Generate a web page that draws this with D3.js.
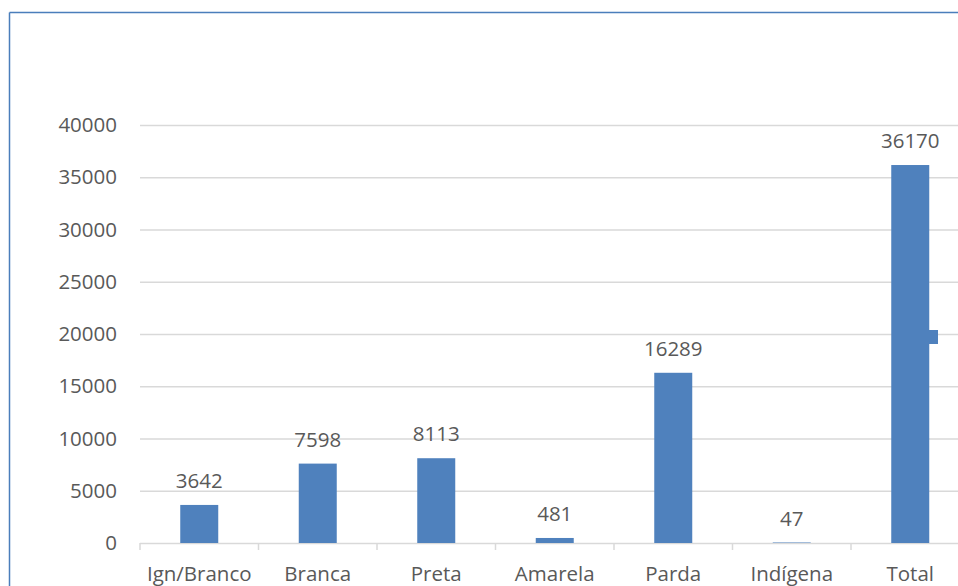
<!DOCTYPE html>
<html>
<head>
<meta charset="utf-8">
<script src="https://cdn.jsdelivr.net/npm/d3@7"></script>
<style>
  body { margin: 0; background: #fff; }
  text { font-family: "Open Sans", "Liberation Sans", sans-serif; fill: #595959; }
</style>
</head>
<body>
<div id="chart"></div>
<script>
var categories = ['Ign/Branco', 'Branca', 'Preta', 'Amarela', 'Parda', 'Indígena', 'Total']
var values = [3642, 7598, 8113, 481, 16289, 47, 36170]
var yTicks = [0, 5000, 10000, 15000, 20000, 25000, 30000, 35000, 40000]

var width = 958
var height = 586

var svg = d3.select('#chart')
            .append('svg')
            .attr('width', width)
            .attr('height', height)

// chart area frame (only left and top edges visible)
svg.append('line')
    .attr('x1', 9.5).attr('x2', 9.5)
    .attr('y1', 12.5).attr('y2', height)
    .attr('stroke', '#4a7ebb').attr('stroke-width', 1.5)
svg.append('line')
    .attr('x1', 9.5).attr('x2', width)
    .attr('y1', 12.5).attr('y2', 12.5)
    .attr('stroke', '#4a7ebb').attr('stroke-width', 1.5)

var x = d3.scaleBand()
          .domain(categories)
          .range([140, 140 + 7 * 118.5])
          .padding(0)

var y = d3.scaleLinear()
          .domain([0, 40000])
          .range([543, 125])

// gridlines + y labels
var yAxis = svg.append('g')
    .attr('transform', 'translate(140,0)')
    .call(d3.axisLeft(y).tickValues(yTicks).tickSize(-(width - 140)).tickPadding(23).tickFormat(d3.format('d')))
yAxis.select('.domain').remove()
yAxis.selectAll('.tick line').attr('stroke', '#d9d9d9').attr('stroke-width', 1.5)
yAxis.selectAll('.tick text').style('font-size', '20.5px').style('fill', '#595959')

// category axis ticks at band edges
svg.selectAll('.xtick')
    .data(categories)
    .enter()
    .append('line')
    .attr('class', 'xtick')
    .attr('x1', d => x(d)).attr('x2', d => x(d))
    .attr('y1', 543).attr('y2', 550)
    .attr('stroke', '#d9d9d9').attr('stroke-width', 1.5)

var barW = 38

svg.selectAll('.bar')
    .data(values)
    .enter()
    .append('rect')
    .attr('class', 'bar')
    .attr('x', (d, i) => x(categories[i]) + x.bandwidth() / 2 - barW / 2)
    .attr('y', d => y(d))
    .attr('width', barW)
    .attr('height', d => 543 - y(d))
    .attr('fill', '#4f81bd')

svg.selectAll('.vlabel')
    .data(values)
    .enter()
    .append('text')
    .attr('class', 'vlabel')
    .attr('x', (d, i) => x(categories[i]) + x.bandwidth() / 2)
    .attr('y', d => y(d) - 17)
    .attr('text-anchor', 'middle')
    .style('font-size', '20.5px')
    .text(d => d)

// category labels run off the bottom edge, as in the original
svg.selectAll('.clabel')
    .data(categories)
    .enter()
    .append('text')
    .attr('class', 'clabel')
    .attr('x', d => x(d) + x.bandwidth() / 2)
    .attr('y', 581)
    .attr('text-anchor', 'middle')
    .style('font-size', '20.5px')
    .text(d => d)

// legend swatch (legend itself is cut off at the right edge)
svg.append('rect')
    .attr('x', 929).attr('y', 330)
    .attr('width', 9).attr('height', 14)
    .attr('fill', '#4f81bd')
</script>
</body>
</html>
